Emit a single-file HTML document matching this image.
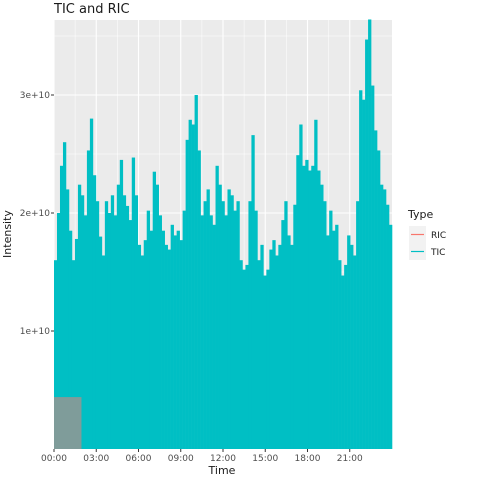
<!DOCTYPE html>
<html><head><meta charset="utf-8"><style>
body{margin:0;background:#fff;font-family:"Liberation Sans","DejaVu Sans",sans-serif}
</style></head><body>
<svg id="c" width="480" height="480" viewBox="0 0 480 480" font-family="DejaVu Sans, Liberation Sans, sans-serif">
<rect width="480" height="480" fill="#fff"/>
<text x="54" y="13" font-size="13" fill="#1a1a1a">TIC and RIC</text>
<rect id="panel" x="54" y="20" width="338" height="429" fill="#EBEBEB"/>
<g id="grid"></g><g id="marks"></g><g id="axes"></g>
<text x="222" y="474" font-size="11" text-anchor="middle" fill="#1a1a1a">Time</text>
<text transform="translate(11,234) rotate(-90)" font-size="11" text-anchor="middle" fill="#1a1a1a">Intensity</text>
<g>
<text x="408" y="218" font-size="11" fill="#1a1a1a">Type</text>
<rect x="409" y="226" width="17" height="17" fill="#F2F2F2"/>
<line x1="411" x2="424" y1="234.5" y2="234.5" stroke="#F8766D" stroke-width="1.2"/>
<text x="431" y="238" font-size="9" fill="#1a1a1a">RIC</text>
<rect x="409" y="243" width="17" height="17" fill="#F2F2F2"/>
<line x1="411" x2="424" y1="251.5" y2="251.5" stroke="#00BFC4" stroke-width="1.2"/>
<text x="431" y="255" font-size="9" fill="#1a1a1a">TIC</text>
</g>
</svg>
<script>
const ticValues=[16,20,24,26,22,18.5,16,17.8,22.4,21.5,19.8,25.3,28,23.2,21,18,16.4,21,20,21.5,19.8,22.4,24.5,21.5,20.6,19.4,24.7,21.5,17.3,16.4,17.7,20.2,18.5,23.5,22.4,19.8,18.5,17.3,16.9,19,18.1,18.5,17.7,20.2,26.2,27.9,27.5,30,25.3,19.8,21,22,19.8,19,24,22.4,21,19.8,22,21.5,20.2,21,16,15.2,15.6,21,26.6,20.2,16,17.3,14.7,15.2,16.9,17.7,16.4,17.3,19.4,21,18.1,17.3,20.7,24.9,27.5,24,24.5,23.6,24,27.9,23.6,22.4,21,18.1,20.2,18.5,19,16,14.7,15.6,18.1,17.3,16.4,21,30.4,29.6,34.7,36.4,30.8,27,25.3,22.4,22,20.7,19];
const ricStart=[0];const ricEnd=[1.95];const ricValues=[4.4];
const yTicks=[10,20,30];const yTickLabels=["1e+10","2e+10","3e+10"];
const yMinor=[5,15,25,35];
const xTicks=[0,3,6,9,12,15,18,21];const xTickLabels=["00:00","03:00","06:00","09:00","12:00","15:00","18:00","21:00"];
const X0=54,X1=392,Y0=449,Y1=20;
const xs=h=>X0+h*(X1-X0)/24;
const ys=v=>Y0-v*11.8;
const NS="http://www.w3.org/2000/svg";
function mk(tag,attrs,parent){const e=document.createElementNS(NS,tag);for(const k in attrs)e.setAttribute(k,attrs[k]);parent.appendChild(e);return e;}
const grid=document.getElementById('grid'),marks=document.getElementById('marks'),axes=document.getElementById('axes');
for(let i=0;i<yMinor.length;i++){
 const m=mk('line',{x1:X0,x2:X1,y1:ys(yMinor[i]),y2:ys(yMinor[i]),stroke:'#fff','stroke-width':0.5},grid);
 
 
}
for(let i=0;i<yTicks.length;i++){
 const g=mk('line',{x1:X0,x2:X1,y1:ys(yTicks[i]),y2:ys(yTicks[i]),stroke:'#fff','stroke-width':1.1},grid);
 
 
 const t=mk('text',{x:X0-4,y:ys(yTicks[i])+3,'font-size':9,'text-anchor':'end',fill:'#4D4D4D'},axes);t.textContent=yTickLabels[i];
 
 
 mk('line',{x1:X0-3,x2:X0,y1:ys(yTicks[i]),y2:ys(yTicks[i]),stroke:'#333','stroke-width':1},axes);
}
for(let i=0;i<xTicks.length;i++){
 const m=mk('line',{x1:xs(xTicks[i]+1.5),x2:xs(xTicks[i]+1.5),y1:Y1,y2:Y0,stroke:'#fff','stroke-width':0.5},grid);
 
 
 const g=mk('line',{x1:xs(xTicks[i]),x2:xs(xTicks[i]),y1:Y1,y2:Y0,stroke:'#fff','stroke-width':1.1},grid);
 
 
 const t=mk('text',{x:xs(xTicks[i]),y:Y0+12,'font-size':9,'text-anchor':'middle',fill:'#4D4D4D'},axes);t.textContent=xTickLabels[i];
 
 
 mk('line',{x1:xs(xTicks[i]),x2:xs(xTicks[i]),y1:Y0,y2:Y0+3,stroke:'#333','stroke-width':1},axes);
}
const n=ticValues.length,step=24/n;
for(let i=0;i<n;i++){
 const x=xs(i*step),w=xs((i+1)*step)-x;
 const b=mk('rect',{x:x,y:ys(ticValues[i]),width:w+0.3,height:Y0-ys(ticValues[i]),fill:'#00BFC4'},marks);
 
 
}
for(let i=0;i<ricValues.length;i++){
 const r=mk('rect',{x:xs(ricStart[i]),y:ys(ricValues[i]),width:xs(ricEnd[i])-xs(ricStart[i]),height:Y0-ys(ricValues[i]),fill:'#7F9C9A'},marks);
 
 
}
</script>
</body></html>
